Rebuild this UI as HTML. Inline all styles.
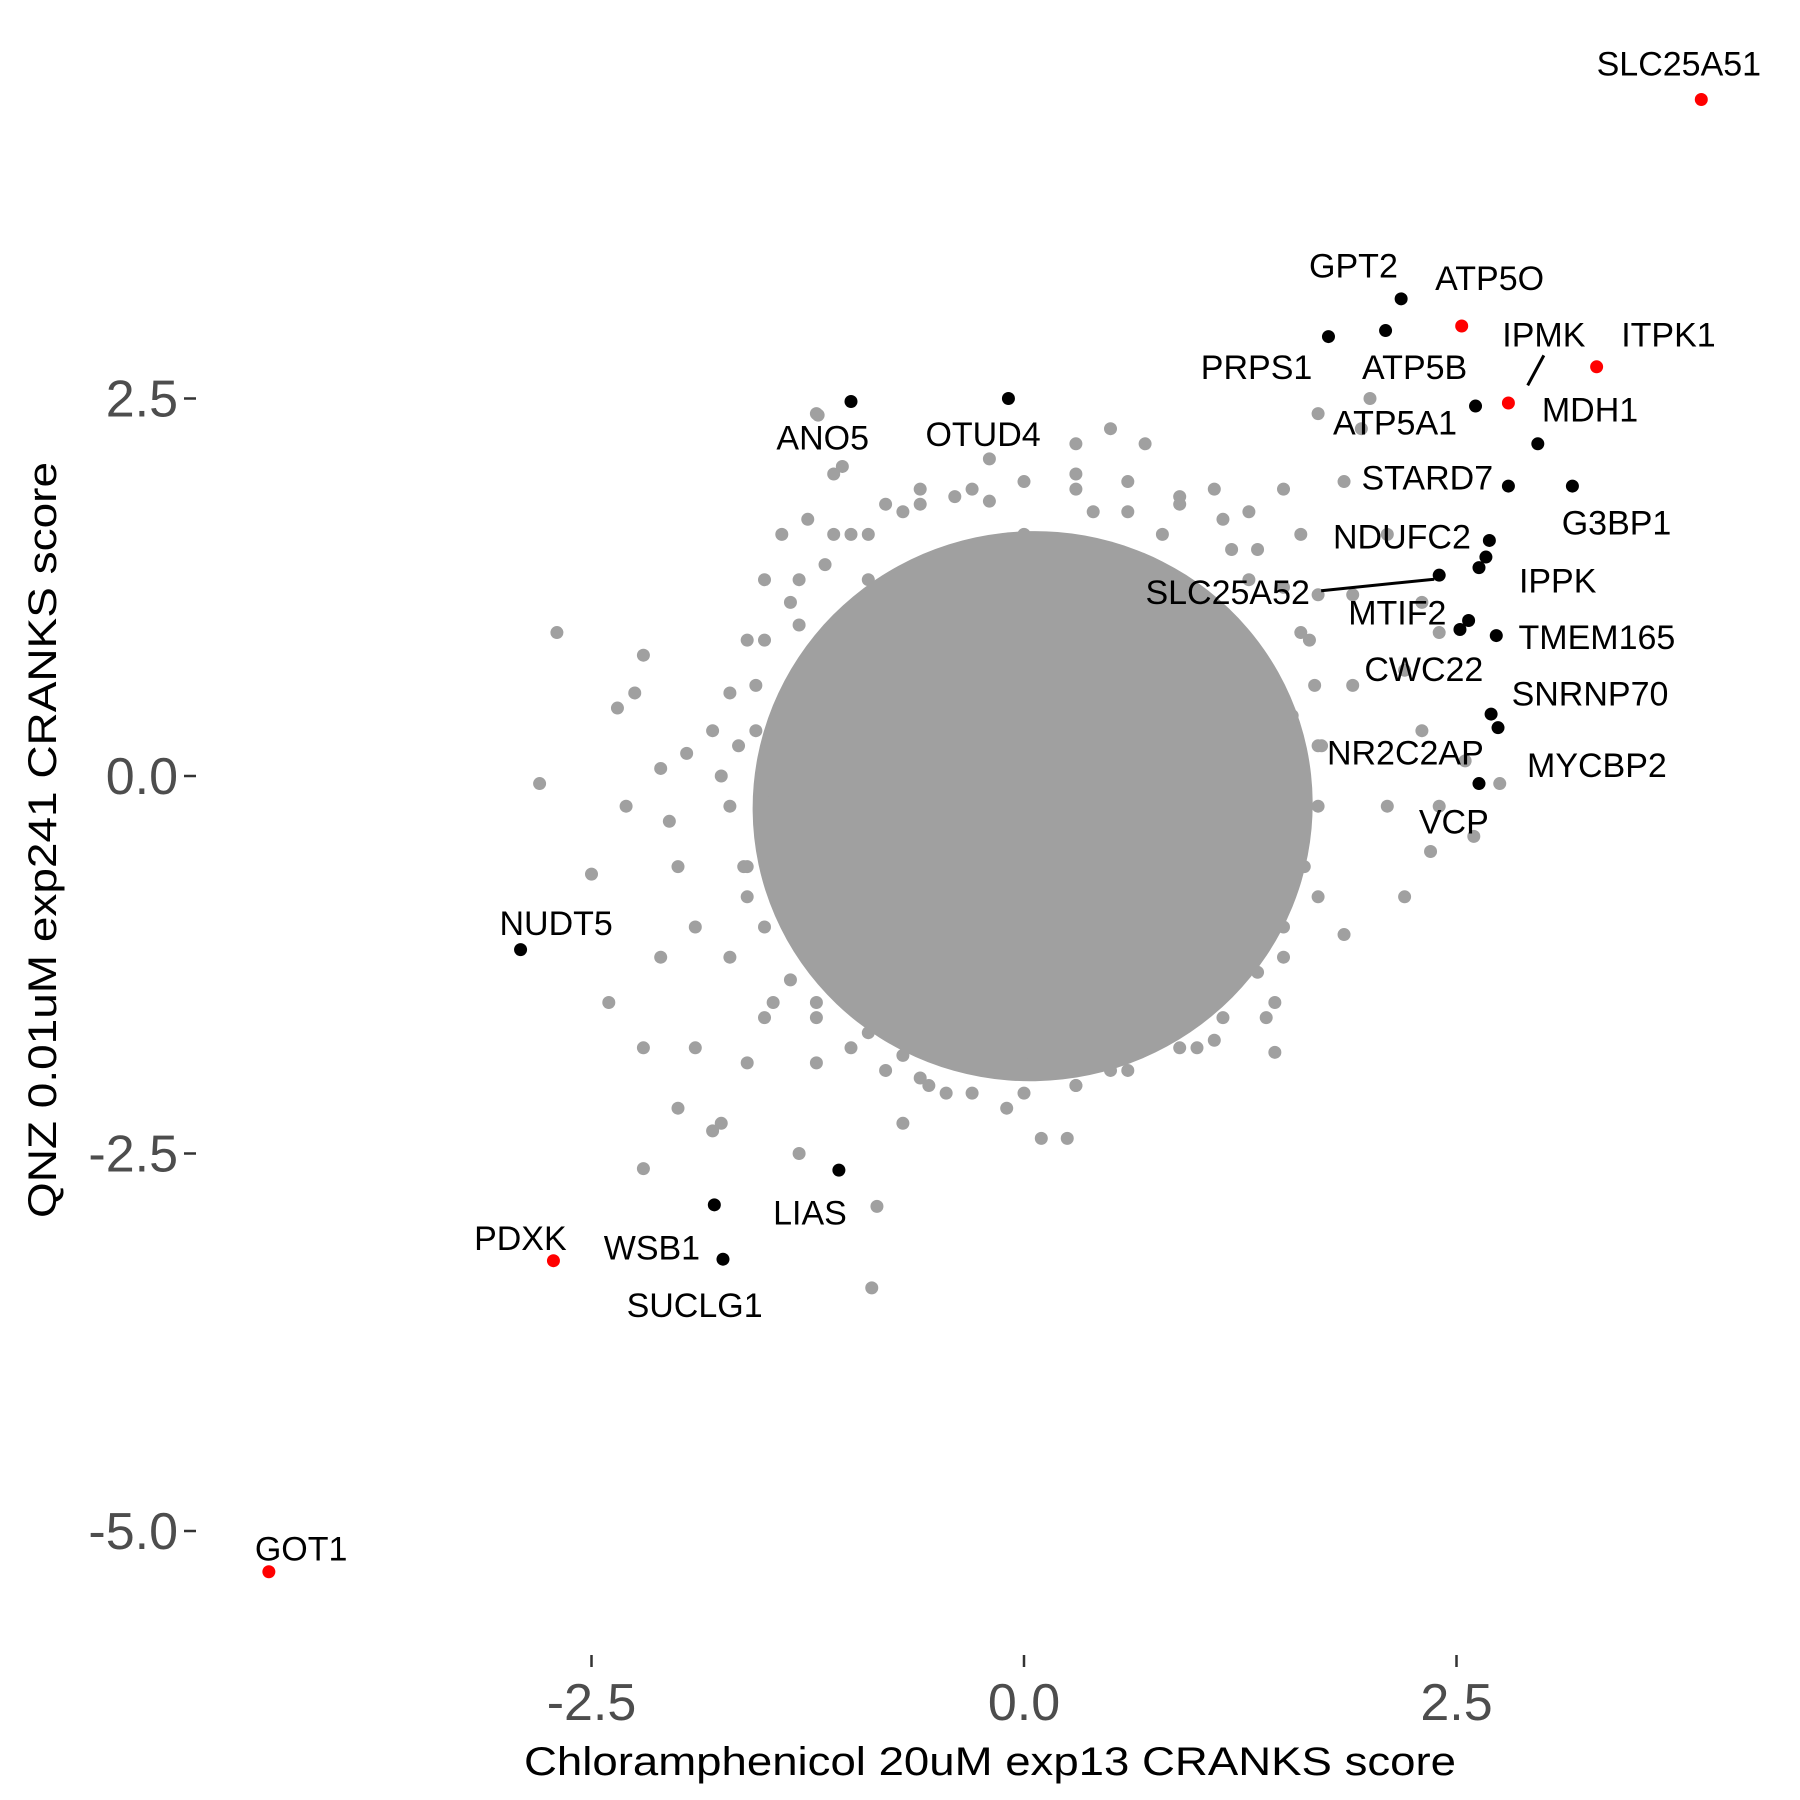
<!DOCTYPE html>
<html><head><meta charset="utf-8"><style>
html,body{margin:0;padding:0;background:#fff}
svg{display:block}
text{font-family:"Liberation Sans",Arial,sans-serif}
</style></head><body>
<svg id="chart" width="1800" height="1800" viewBox="0 0 1800 1800" xmlns="http://www.w3.org/2000/svg">
<g id="core"></g>
<g id="pts"></g>
<g id="labels"></g>
<g id="axes"></g>
<text x="990" y="1775" font-size="40" text-anchor="middle" textLength="932" lengthAdjust="spacingAndGlyphs">Chloramphenicol 20uM exp13 CRANKS score</text>
<text transform="translate(56,840) rotate(-90)" font-size="40" text-anchor="middle" textLength="756" lengthAdjust="spacingAndGlyphs">QNZ 0.01uM exp241 CRANKS score</text>
</svg>
<script>
const xTicks=[-2.5,0,2.5];
const yTicks=[2.5,0,-2.5,-5];
const tickLabels=["-2.5","0.0","2.5"];
const yTickLabels=["2.5","0.0","-2.5","-5.0"];
const greyX=[-2.7,-2.2,-2.8,-2.5,-2.4,-2.2,-2.2,-2.0,-1.8,-1.3,-0.85,-0.88,-1.75,-2.3,-2.1,-2.0,-2.1,-1.9,-1.7,-1.8,-1.6,-1.3,-1.4,-1.0,-1.2,-1.5,-1.6,-1.9,-2.05,-1.95,-1.5,-1.1,-1.2,-0.8,-0.6,-0.4,-0.2,0.3,0.5,0.7,0.3,0.6,0.9,1.1,1.3,1.7,2.0,1.95,1.85,1.6,1.5,2.1,2.3,2.2,2.3,2.4,2.35,2.2,2.1,1.9,1.7,1.85,1.5,1.4,1.45,0.9,0.5,0.3,0.1,0.25,-0.1,-0.3,-0.6,-0.7,-0.45,0.05,1.0,1.2,2.4,2.55,2.6,2.75,1.7,1.9,1.2,-0.3,0.0,-0.9,-1.7,-1.6,-1.75,-1.55,1.6,1.7,1.65,-0.9,-0.4,0.6,1.1,-2.25,-2.35,-1.05,-1.25,-1.19,
-1.55,-1.65,-1.7,-1.62,-1.5,-1.35,-1.2,-1.0,-0.8,-0.55,-0.3,0.0,0.3,0.6,0.9,1.15,1.35,1.5,1.62,1.7,1.72,1.68,1.6,1.5,1.35,1.15,0.9,0.6,0.3,0.0,-0.3,-0.6,-0.9,-1.15,-1.35,-1.5,-1.6,-1.45,-1.3,-1.1,-0.7,-0.2,0.4,0.8,1.3,1.55,1.6,1.45,1.1,0.5,-0.1,-0.7,-1.2,-1.5];
const greyY=[0.95,0.8,-0.05,-0.65,-1.5,-1.8,-2.6,-2.2,-2.35,-2.5,-2.85,-3.39,-2.3,-0.2,0.05,-0.6,-1.2,-1.0,0.55,0.3,0.9,1.3,1.6,1.6,-1.9,-1.6,-1.9,-1.8,-0.3,0.15,1.3,2.0,2.4,1.8,1.9,1.85,2.1,2.2,2.3,2.2,1.9,1.75,1.8,1.9,1.75,2.4,2.5,2.3,1.95,1.6,1.9,1.6,1.15,0.7,0.3,-0.2,-0.5,-0.8,-0.2,0.6,-0.8,-1.05,-1.2,-1.6,-1.83,-1.6,-1.7,-2.05,-2.4,-2.4,-2.2,-1.8,-2.0,-2.3,-2.1,-1.9,-1.8,-1.4,0.95,0.1,-0.4,-0.05,1.2,1.2,1.5,1.5,1.6,1.3,-1.2,-0.6,0.0,0.3,-0.3,0.2,0.9,-1.7,-1.6,-1.4,-1.1,0.55,0.45,2.05,1.7,2.39,
0.6,0.2,-0.2,-0.6,-1.0,-1.35,-1.6,-1.8,-1.95,-2.05,-2.1,-2.1,-2.05,-1.95,-1.8,-1.6,-1.3,-1.0,-0.6,-0.2,0.2,0.6,0.95,1.25,1.5,1.7,1.85,1.95,2.0,1.95,1.9,1.8,1.6,1.4,1.15,0.9,-0.8,-1.5,1.0,1.6,1.75,1.82,1.75,1.6,1.3,0.4,-0.4,-1.5,-1.75,-1.95,-1.95,-1.85,-1.5,-0.1];
const genes=["SLC25A51","GOT1","PDXK","ATP5O","GPT2","ATP5B","PRPS1","ITPK1","IPMK","ATP5A1","MDH1","G3BP1","STARD7","NDUFC2","IPPK","MTIF2","SLC25A52","TMEM165","CWC22","SNRNP70","MYCBP2","NR2C2AP","VCP","ANO5","OTUD4","NUDT5","LIAS","WSB1","SUCLG1"];
const geneX=[3.915,-4.365,-2.72,2.53,2.18,2.09,1.76,3.31,2.80,2.61,2.97,3.17,2.80,2.69,2.67,2.57,2.40,2.73,2.52,2.70,2.74,2.63,2.63,-1.0,-0.09,-2.91,-1.07,-1.79,-1.74];
const geneY=[4.48,-5.27,-3.21,2.98,3.16,2.95,2.91,2.71,2.47,2.45,2.20,1.92,1.92,1.56,1.45,1.03,1.33,0.93,0.97,0.41,0.32,1.38,-0.05,2.48,2.50,-1.15,-2.61,-2.84,-3.20];
const geneRed=[1,1,1,1,0,0,0,1,1,0,0,0,0,0,0,0,0,0,0,0,0,0,0,0,0,0,0,0,0];
const labelX=[1455,261,451,1291,1173,1226,1089,1446,1338,1209,1378,1401,1237,1215,1350,1211,1064,1384,1234,1378,1384,1218,1260,713,852,482,702,565,602];
const labelY=[55,1342,1073,241,230,318,318,290,290,366,355,453,414,465,503,531,513,552,580,601,663,652,712,379,376,800,1051,1081,1131];
const S=1800/1560;
function xs(v){return 1024+v*173;}
function ys(v){return 776-v*151;}
const NS="http://www.w3.org/2000/svg";
function mk(tag,attrs,parent){const e=document.createElementNS(NS,tag);for(const k in attrs)e.setAttribute(k,attrs[k]);parent.appendChild(e);return e;}
const core=document.getElementById('core');
const el0=mk('ellipse',{cx:xs(0.05),cy:ys(-0.2),rx:1.62*173,ry:1.82*151,fill:'#a0a0a0',transform:'rotate(-12 '+xs(0.05)+' '+ys(-0.2)+')'},core);


const pts=document.getElementById('pts');
for(let i=0;i<greyX.length;i++){
  const c=mk('circle',{cx:xs(greyX[i]),cy:ys(greyY[i]),r:6.5,fill:'#a0a0a0'},pts);
  
  
}
for(let i=0;i<genes.length;i++){
  const c=mk('circle',{cx:xs(geneX[i]),cy:ys(geneY[i]),r:6.5,fill:geneRed[i]?'#ff0000':'#000'},pts);
  
  
}
const lab=document.getElementById('labels');
for(let i=0;i<genes.length;i++){
  const t=mk('text',{x:labelX[i]*S,y:labelY[i]*S+12,'font-size':34,'text-anchor':'middle',fill:'#000'},lab);
  t.textContent=genes[i];
  
  
}
const l1=mk('line',{x1:1324*S,y1:334*S,x2:1338*S,y2:308*S,stroke:'#000','stroke-width':3},lab);


const l2=mk('line',{x1:1145*S,y1:512*S,x2:1243*S,y2:502*S,stroke:'#000','stroke-width':3},lab);


const ax=document.getElementById('axes');
for(let i=0;i<xTicks.length;i++){
  const x=xs(xTicks[i]);
  const tk=mk('line',{x1:x,y1:1655,x2:x,y2:1667,stroke:'#333','stroke-width':2.5},ax);
  
  
  const t=mk('text',{x:x,y:1720,'font-size':52,'text-anchor':'middle',fill:'#4d4d4d'},ax);
  t.textContent=tickLabels[i];
  
  
}
for(let i=0;i<yTicks.length;i++){
  const y=ys(yTicks[i]);
  const tk=mk('line',{x1:184,y1:y,x2:196,y2:y,stroke:'#333','stroke-width':2.5},ax);
  
  
  const t=mk('text',{x:178,y:y+18,'font-size':52,'text-anchor':'end',fill:'#4d4d4d'},ax);
  t.textContent=yTickLabels[i];
  
  
}
</script>
</body></html>
